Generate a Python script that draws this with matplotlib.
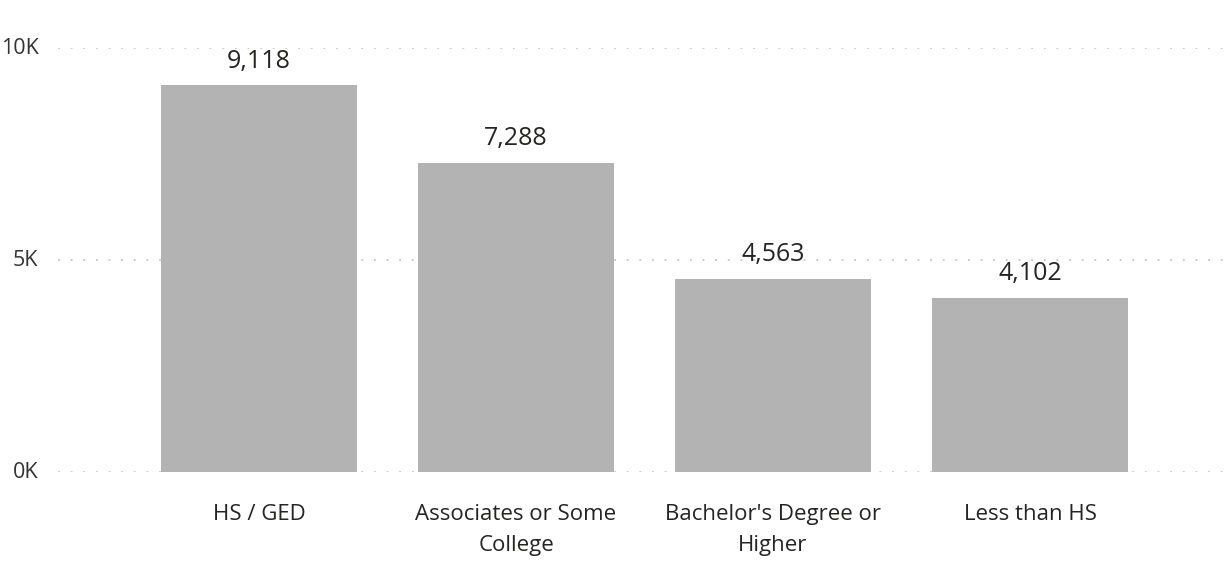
import matplotlib
matplotlib.use("Agg")
import matplotlib.pyplot as plt

categories = ["HS / GED", "Associates or Some\nCollege", "Bachelor's Degree or\nHigher", "Less than HS"]
values = [9118, 7288, 4563, 4102]
yticks = [0, 5000, 10000]
ytick_labels = ["0K", "5K", "10K"]

plt.rcParams['font.family'] = ['Open Sans', 'DejaVu Sans']

fig = plt.figure(figsize=(12.29, 5.63), dpi=100)
ax = fig.add_axes([58/1229, 91/563, 1 - 58/1229, (472-48)/563])

x = list(range(len(categories)))
ax.bar(x, values, width=0.763, color="#b3b3b3", zorder=2)
for xi, v in zip(x, values):
    ax.annotate(f"{v:,}", (xi, v), xytext=(0, 8.5), textcoords="offset points",
                ha="center", va="bottom", fontsize=18, color="#252423", zorder=3)

ax.set_xlim(-0.782, 3.774)
ax.set_ylim(0, 10000)
ax.set_yticks(yticks)
ax.set_yticklabels(ytick_labels)
ax.set_xticks(x)
ax.set_xticklabels(categories, linespacing=1.65)
ax.tick_params(axis="y", length=0, pad=14, labelsize=15.5, labelcolor="#333333")
ax.tick_params(axis="x", length=0, pad=23, labelsize=16, labelcolor="#252423")
for lbl in ax.get_yticklabels():
    lbl.set_verticalalignment("center")

ax.grid(axis="y", color="#c8c6c4", linestyle=(0, (1, 6)), linewidth=1.3, zorder=0)
for s in ax.spines.values():
    s.set_visible(False)

fig.savefig("out.png", dpi=100)
